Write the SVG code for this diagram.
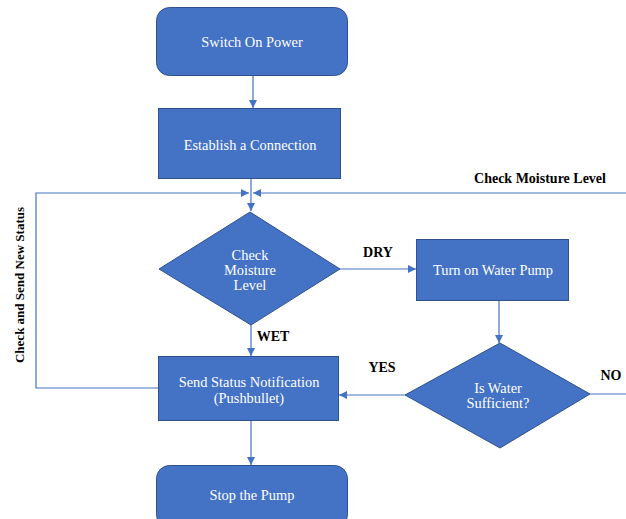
<svg xmlns="http://www.w3.org/2000/svg" width="626" height="519" viewBox="0 0 626 519">
<style>
.node{fill:#4472C4;stroke:#2F528F;stroke-width:1}
.t{fill:#ffffff;font-family:"Liberation Serif","Times New Roman","DejaVu Serif",serif;font-size:14.4px;text-anchor:middle}
.lbl{fill:#000000;font-family:"Liberation Serif","Times New Roman","DejaVu Serif",serif;font-size:14px;font-weight:bold;text-anchor:middle}
.c{fill:none;stroke:#4472C4;stroke-width:1.2}
</style>
<defs>
<marker id="ah" viewBox="0 0 10 10" refX="10" refY="5" markerWidth="8" markerHeight="8" markerUnits="userSpaceOnUse" orient="auto">
<path d="M0,0 L10,5 L0,10 z" fill="#4472C4"/>
</marker>
</defs>
<rect width="626" height="519" fill="#ffffff"/>
<g id="connectors">
<path class="c" d="M253,76 V108" marker-end="url(#ah)"/>
<path class="c" d="M251,178 V211" marker-end="url(#ah)"/>
<path class="c" d="M158,388 H36 V193 H249" marker-end="url(#ah)"/>
<path class="c" d="M626,193 H253" marker-end="url(#ah)"/>
<path class="c" d="M340,269 H416" marker-end="url(#ah)"/>
<path class="c" d="M499,300 V343" marker-end="url(#ah)"/>
<path class="c" d="M251,325 V356" marker-end="url(#ah)"/>
<path class="c" d="M405,395 H339" marker-end="url(#ah)"/>
<path class="c" d="M590,394 H626"/>
<path class="c" d="M251,420 V465" marker-end="url(#ah)"/>
</g>
<g id="switch-on">
<rect class="node" x="156.5" y="7.5" width="191" height="68" rx="13"/>
<text class="t" x="252" y="47">Switch On Power</text>
</g>
<g id="establish">
<rect class="node" x="158.5" y="108.5" width="182" height="70"/>
<text class="t" x="250" y="150">Establish a Connection</text>
</g>
<g id="check-moisture">
<polygon class="node" points="250,212 340,269 251,325 159,269"/>
<text class="t" x="250" y="260">Check</text>
<text class="t" x="250" y="275">Moisture</text>
<text class="t" x="250" y="290">Level</text>
</g>
<g id="turn-on-pump">
<rect class="node" x="416.5" y="239.5" width="152" height="61"/>
<text class="t" x="493" y="275">Turn on Water Pump</text>
</g>
<g id="water-sufficient">
<polygon class="node" points="500,343 590,394 500,448 405,395"/>
<text class="t" x="498" y="393">Is Water</text>
<text class="t" x="498" y="408">Sufficient?</text>
</g>
<g id="send-status">
<rect class="node" x="158.5" y="356.5" width="180" height="64"/>
<text class="t" x="249" y="387">Send Status Notification</text>
<text class="t" x="249" y="403">(Pushbullet)</text>
</g>
<g id="stop-pump">
<rect class="node" x="156.5" y="465.5" width="191" height="62" rx="13"/>
<text class="t" x="252" y="500">Stop the Pump</text>
</g>
<g id="labels">
<text class="lbl" x="540" y="183">Check Moisture Level</text>
<text class="lbl" x="378" y="257">DRY</text>
<text class="lbl" x="273" y="341">WET</text>
<text class="lbl" x="382" y="372">YES</text>
<text class="lbl" x="611" y="380">NO</text>
<text class="lbl" style="font-size:13px" transform="translate(24,285) rotate(-90)">Check and Send New Status</text>
</g>
</svg>
